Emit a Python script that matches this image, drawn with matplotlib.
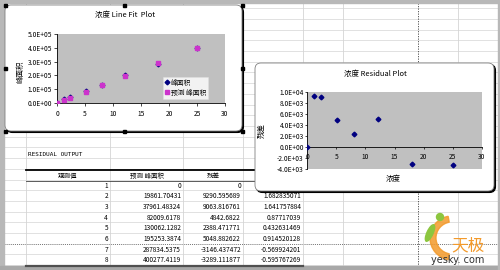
import numpy as np
import matplotlib
matplotlib.use("Agg")
import matplotlib.pyplot as plt
from matplotlib.patches import FancyBboxPatch, Rectangle, Wedge, Ellipse, Circle
from matplotlib.ticker import FuncFormatter, MultipleLocator

plt.rcParams['font.family'] = ['Noto Sans CJK SC', 'DejaVu Sans']

# data
conc = [0, 1.24, 2.37, 5.12, 8.12, 12.19, 17.98, 25.0]
obs_no = [1, 2, 3, 4, 5, 6, 7, 8]
pred_area = [0, 19861.70431, 37961.48324, 82009.6178, 130062.1282,
             195253.3874, 287834.5375, 400277.4119]
resid = [0, 9290.595689, 9063.816761, 4842.6822, 2388.471771,
         5048.882622, -3146.437472, -3289.111877]
std_resid = [0, 1.682835071, 1.641757884, 0.87717039, 0.432631469,
             0.914520128, -0.569924201, -0.595767269]
area = [p + r for p, r in zip(pred_area, resid)]

W, H = 500, 270
fig = plt.figure(figsize=(5, 2.7), dpi=100)
fig.patch.set_facecolor('white')

# background "sheet" axes in pixel coords
bg = fig.add_axes([0, 0, 1, 1], zorder=0)
bg.set_xlim(0, W)
bg.set_ylim(H, 0)
bg.axis('off')

grid_c = '#d4d4d4'
rows_y = 8.3 + 10.7 * np.arange(0, 25)
for y in rows_y:
    dashed = abs(y - 243.7) < 1
    bg.plot([4, W - 2], [y, y], color='#404040' if dashed else grid_c, lw=0.5,
            ls=(0, (1.5, 1.5)) if dashed else '-', zorder=1)
for x in [26, 110, 183, 243, 303, 343, 458]:
    bg.plot([x, x], [3, 266], color=grid_c, lw=0.6, zorder=1)
bg.plot([418, 418], [3, 266], color='#404040', lw=0.6, ls=(0, (1.5, 1.5)), zorder=1)

# window frame
bg.add_patch(Rectangle((0, 0), 4, H, color='#b8b8b8', zorder=2))
bg.add_patch(Rectangle((0, 0), W, 3, color='#b8b8b8', zorder=2))
bg.add_patch(Rectangle((0, 266), W, 4, color='#a8a8a8', zorder=2))
bg.add_patch(Rectangle((W - 2, 0), 2, H, color='#b8b8b8', zorder=2))

# residual output table
tf = 4.7
bg.text(28, 154, 'RESIDUAL OUTPUT', fontsize=4.3, va='center', ha='left',
        family='DejaVu Sans Mono', zorder=3)
bg.plot([26, 303], [170.2, 170.2], color='black', lw=1.3, zorder=3)
bg.plot([26, 303], [181, 181], color='#404040', lw=0.6, zorder=3)
bg.plot([26, 303], [265.5, 265.5], color='#505050', lw=1.6, zorder=3)
bg.text(68, 175.6, '观测值', fontsize=tf, ha='center', va='center', zorder=3)
bg.text(146.5, 175.6, '预测 峰面积', fontsize=tf, ha='center', va='center', zorder=3)
bg.text(213, 175.6, '残差', fontsize=tf, ha='center', va='center', zorder=3)


def fmt(v):
    if v == 0:
        return '0'
    return ('%.10g' % v)


for i, n in enumerate(obs_no):
    y = 185.6 + 10.7 * i
    bg.text(108, y, str(n), fontsize=tf, ha='right', va='center', zorder=3)
    bg.text(181, y, fmt(pred_area[i]), fontsize=tf, ha='right', va='center', zorder=3)
    bg.text(241, y, fmt(resid[i]), fontsize=tf, ha='right', va='center', zorder=3)
    if i > 0:  # row 1 sits under the residual chart
        bg.text(301, y, fmt(std_resid[i]), fontsize=tf, ha='right', va='center', zorder=3)


def chart_frame(x0, y0, x1, y1):
    bg.add_patch(FancyBboxPatch((x0 + 1.5, y0 + 1.5), x1 - x0, y1 - y0,
                                boxstyle='round,pad=0,rounding_size=6',
                                fc='black', ec='black', lw=0.8, zorder=5))
    bg.add_patch(FancyBboxPatch((x0, y0), x1 - x0, y1 - y0,
                                boxstyle='round,pad=0,rounding_size=6',
                                fc='white', ec='#808080', lw=0.6, zorder=6))


chart_frame(5, 5, 242, 131)
chart_frame(255, 63, 494, 191)

# selection handles on chart 1
for hx, hy in [(5, 5), (124, 5), (242, 5), (5, 68), (242, 68),
               (5, 131), (124, 131), (242, 131)]:
    bg.add_patch(Rectangle((hx - 1.5, hy - 1.5), 3, 3, color='black', zorder=7))

# titles / labels of the charts
lf = 5.4
bg.text(125, 15.5, '浓度 Line Fit  Plot', fontsize=lf, ha='center', va='center', zorder=8)
bg.text(20, 72, '峰面积', fontsize=lf, ha='center', va='center', rotation=90, zorder=8)
bg.text(375, 74.5, '浓度 Residual Plot', fontsize=lf, ha='center', va='center', zorder=8)
bg.text(393, 179, '浓度', fontsize=lf, ha='center', va='center', zorder=8)
bg.text(262, 131, '残差', fontsize=lf, ha='center', va='center', rotation=90, zorder=8)

# watermark logo
bg.add_patch(Wedge((452, 238), 22, 100, 260, width=6, color='#f39a2b', alpha=0.85, zorder=4))
bg.add_patch(Circle((440, 217), 3.5, color='#8cc63f', zorder=4))
bg.add_patch(Ellipse((430, 233), 6, 18, angle=25, color='#8cc63f', zorder=4))
bg.text(468, 246, '天极', fontsize=12, color='#f39a2b', ha='center', va='center', zorder=4)
bg.text(458, 260, 'yesky. com', fontsize=7, color='#303030', ha='center', va='center',
        family='DejaVu Sans', zorder=4)

sci = FuncFormatter(lambda v, p: '{:.1E}'.format(v))
plot_bg = '#c0c0c0'
navy = '#000080'
pink = '#cc33cc'


def px_axes(x0, y0, x1, y1):
    return fig.add_axes([x0 / W, (H - y1) / H, (x1 - x0) / W, (y1 - y0) / H], zorder=10)


# chart 1: line fit plot
ax1 = px_axes(57, 34, 225, 103)
ax1.set_facecolor(plot_bg)
ax1.plot(conc, area, 'D', color=navy, ms=2.4, label='峰面积', zorder=3)
ax1.plot(conc, pred_area, 's', color=pink, ms=3.2, label='预测 峰面积', zorder=4)
ax1.set_xlim(0, 30)
ax1.set_ylim(0, 500000)
ax1.xaxis.set_major_locator(MultipleLocator(5))
ax1.yaxis.set_major_locator(MultipleLocator(100000))
ax1.yaxis.set_major_formatter(sci)
for s in ['top', 'right']:
    ax1.spines[s].set_visible(False)
for s in ['left', 'bottom']:
    ax1.spines[s].set_linewidth(0.6)
ax1.tick_params(labelsize=4.8, length=2, width=0.5, pad=1.5)
ax1.tick_params(axis='x', pad=3)
leg = ax1.legend(loc='upper left', bbox_to_anchor=(0.63, 0.38), fontsize=4.9,
                 frameon=True, fancybox=False, borderpad=0.3, labelspacing=0.25,
                 handlelength=0.6, handletextpad=0.3, borderaxespad=0)
leg.get_frame().set_facecolor('white')
leg.get_frame().set_edgecolor('#e0e0e0')
leg.get_frame().set_linewidth(0.4)

# chart 2: residual plot
ax2 = px_axes(307, 92, 482, 169)
ax2.set_facecolor(plot_bg)
ax2.plot(conc, resid, 'D', color=navy, ms=2.4, zorder=3)
ax2.set_xlim(0, 30)
ax2.set_ylim(-4000, 10000)
ax2.xaxis.set_major_locator(MultipleLocator(5))
ax2.yaxis.set_major_locator(MultipleLocator(2000))
ax2.yaxis.set_major_formatter(sci)
ax2.spines['bottom'].set_position(('data', 0))
for s in ['top', 'right']:
    ax2.spines[s].set_visible(False)
for s in ['left', 'bottom']:
    ax2.spines[s].set_linewidth(0.6)
ax2.tick_params(labelsize=4.8, length=1.5, width=0.5, pad=0.8)
ax2.tick_params(axis='x', pad=3)

fig.savefig('out.png', dpi=100)
